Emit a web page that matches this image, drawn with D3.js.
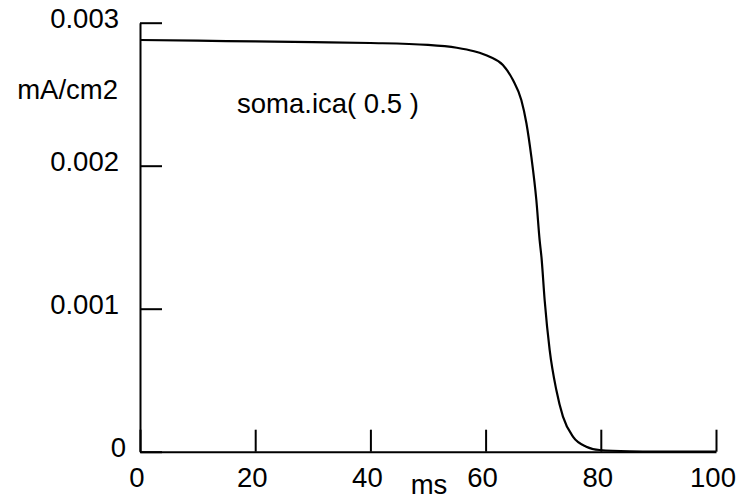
<!DOCTYPE html>
<html>
<head>
<meta charset="utf-8">
<script src="https://cdn.jsdelivr.net/npm/d3@7"></script>
<style>
  html, body { margin: 0; padding: 0; background: #fff; }
  svg { display: block; }
  text { font-family: "Liberation Sans", Arial, Helvetica, sans-serif; fill: #000; }
</style>
</head>
<body>
<svg id="chart" width="748" height="500"></svg>
<script>
// Data (time in ms, soma.ica(0.5) in mA/cm2)
const times = [0, 10, 20, 30, 40, 50, 55, 58, 60.7, 63, 64.75, 66.2, 67.08, 67.94, 68.81, 69.38, 69.7, 70.25, 71.12, 72.28, 73.43, 75.16, 77.48, 79.8, 85, 90, 100];
const icaValues = [0.002879, 0.002874, 0.002869, 0.002864, 0.002858, 0.002845, 0.002825, 0.002800, 0.002762, 0.002704, 0.002599, 0.002459, 0.002299, 0.002063, 0.001760, 0.001480, 0.001360, 0.001061, 0.000712, 0.000431, 0.000245, 0.000105, 0.000035, 0.000012, 0.000003, 0.000001, 0.0000005];
const xTicks = [0, 20, 40, 60, 80, 100];
const yTicks = [0, 0.001, 0.002, 0.003];
const yTickLabels = ["0", "0.001", "0.002", "0.003"];
const seriesLabel = "soma.ica( 0.5 )";
const xUnit = "ms";
const yUnit = "mA/cm2";

const svg = d3.select("#chart");
const FS = 27.5;

const x = d3.scaleLinear().domain([0, 100]).range([140, 716]);
const y = d3.scaleLinear().domain([0, 0.003]).range([451.7, 22.7]);

function stext(g, str, tx, ty, anchor) {
  return g.append("text")
    .attr("x", tx).attr("y", ty)
    .attr("text-anchor", anchor)
    .attr("font-size", FS)
    .text(str);
}

// Axes
const xAxis = d3.axisTop(x).tickValues(xTicks).tickSizeInner(22).tickSizeOuter(0).tickFormat("");
const gx = svg.append("g").attr("transform", `translate(0,${y(0)})`).call(xAxis);
gx.selectAll("path, line").attr("stroke", "#000").attr("stroke-width", 2);

const yAxis = d3.axisRight(y).tickValues(yTicks).tickSizeInner(22).tickSizeOuter(0).tickFormat("");
const gy = svg.append("g").attr("transform", `translate(${x(0)},0)`).call(yAxis);
gy.selectAll("path, line").attr("stroke", "#000").attr("stroke-width", 2);

// Tick labels
const labels = svg.append("g");
xTicks.forEach(t => stext(labels, String(t), x(t) - 3, 487, "middle"));
yTicks.forEach((v, i) => stext(labels, yTickLabels[i], v === 0 ? 126 : 119, y(v) + 5.5, "end"));

// Unit labels and series label
stext(labels, yUnit, 118, 99, "end");
stext(labels, xUnit, 429, 494, "middle");
stext(labels, seriesLabel, 237, 113, "start");

// Curve
const data = times.map((t, i) => [t, icaValues[i]]);
const line = d3.line().x(d => x(d[0])).y(d => y(d[1])).curve(d3.curveMonotoneX);
svg.append("path").datum(data)
  .attr("d", line)
  .attr("fill", "none")
  .attr("stroke", "#000")
  .attr("stroke-width", 2.2);
</script>
</body>
</html>
